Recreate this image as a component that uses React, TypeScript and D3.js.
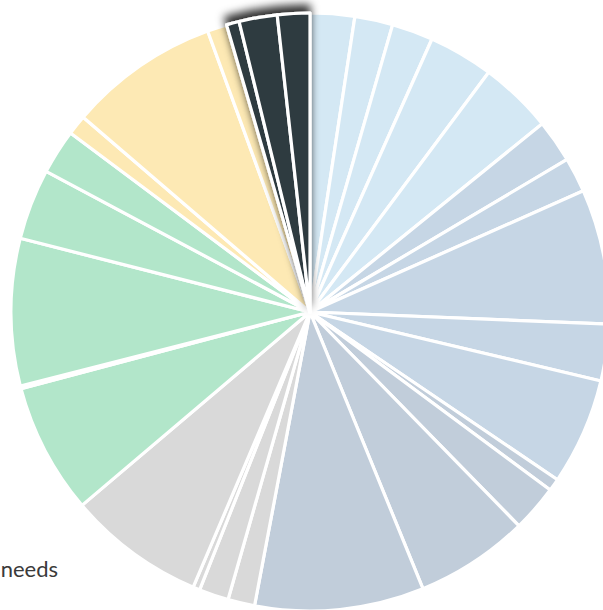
import React from "react";
import * as d3 from "d3";

const categories = [
  "lb1", "lb2", "lb3", "lb4", "lb5",
  "a1", "a2", "a3", "a4", "a5",
  "b1", "b2", "b3", "b4",
  "g1", "g2", "g3", "g4",
  "gr1", "gr0", "gr2", "gr3", "gr4",
  "y1", "y2", "y3",
  "d1", "d2", "d3",
];
const groups = [
  "lb", "lb", "lb", "lb", "lb",
  "a", "a", "a", "a", "a",
  "b", "b", "b", "b",
  "gray", "gray", "gray", "gray",
  "green", "green", "green", "green", "green",
  "yellow", "yellow", "yellow",
  "dark", "dark", "dark",
];
const values = [
  2.4, 2.06, 2.23, 3.51, 3.96,
  2.32, 1.88, 7.29, 3.06, 5.78,
  0.67, 2.53, 6.15, 9.14,
  1.45, 1.6, 0.37, 7.42,
  7.07, 0.14, 7.95, 3.83, 2.42,
  1.08, 8.15, 1.06,
  0.69, 2.06, 1.75,
];
const groupColors: Record<string, string> = {
  lb: "#d4e8f4",
  a: "#c6d6e5",
  b: "#c1cdda",
  gray: "#d9d9d9",
  green: "#b2e6ca",
  yellow: "#fde9b4",
  dark: "#2f3a40",
};

const W = 603;
const H = 610;
const CX = 310;
const CY = 312;
const R = 299;

export default function App() {
  const data = categories.map((c, i) => ({ c, g: groups[i], v: values[i] }));
  const pie = d3.pie<any>().sort(null).value((d) => d.v);
  const arcs = pie(data);
  const arc = d3.arc<any>().innerRadius(0).outerRadius(R);
  const normal = arcs.filter((a) => a.data.g !== "dark");
  const dark = arcs.filter((a) => a.data.g === "dark");
  return (
    <svg
      width={W}
      height={H}
      style={{ position: "absolute", left: 0, top: 0 }}
    >
      <defs>
        <filter id="sh" x="-50%" y="-50%" width="200%" height="200%">
          <feDropShadow dx={-1} dy={-7} stdDeviation={4} floodColor="#000" floodOpacity={0.8} />
        </filter>
      </defs>
      <g transform={`translate(${CX},${CY})`}>
        {normal.map((a, i) => (
          <path
            key={i}
            d={arc(a) as string}
            fill={groupColors[a.data.g]}
            stroke="#fff"
            strokeWidth={3.2}
            strokeLinejoin="round"
          />
        ))}
        <g filter="url(#sh)">
          {dark.map((a, i) => (
            <path
              key={i}
              d={arc(a) as string}
              fill={groupColors[a.data.g]}
              stroke="#fff"
              strokeWidth={3.2}
              strokeLinejoin="round"
            />
          ))}
        </g>
      </g>
      <text
        x={58}
        y={577}
        textAnchor="end"
        fontFamily="Lato"
        fontSize={22}
        fill="#3a3a3a"
      >
        needs
      </text>
    </svg>
  );
}
